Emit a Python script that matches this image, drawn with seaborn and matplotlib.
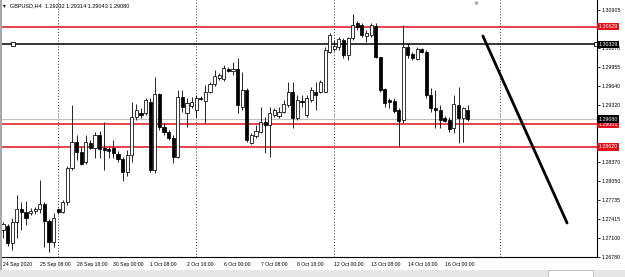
import numpy as np
import pandas as pd
import seaborn as sns
import matplotlib.pyplot as plt
from matplotlib.patches import Rectangle
from matplotlib.transforms import blended_transform_factory

# GBPUSD H4 candles, 24 Sep 2020 00:00 .. 16 Oct 2020 20:00
symbol = "GBPUSD,H4"
opens = [1.27231, 1.27298, 1.27014, 1.27365, 1.27582, 1.27532, 1.27515, 1.27548, 1.27582, 1.27665,
         1.27381, 1.27031, 1.27582, 1.27532, 1.27699, 1.28266, 1.28701, 1.28534, 1.28367, 1.28684,
         1.28600, 1.28818, 1.28600, 1.28584, 1.28600, 1.28500, 1.28417, 1.28200, 1.28484, 1.29118,
         1.29185, 1.29185, 1.29369, 1.28233, 1.29502, 1.28951, 1.28868, 1.28767, 1.28450, 1.29452,
         1.29185, 1.29302, 1.29235, 1.29435, 1.29385, 1.29536, 1.29669, 1.29769, 1.29753, 1.29920,
         1.29886, 1.29920, 1.29285, 1.29569, 1.28684, 1.28801, 1.28868, 1.29035, 1.28985, 1.29152,
         1.29135, 1.29202, 1.29319, 1.29536, 1.29101, 1.29385, 1.29152, 1.29402, 1.29536, 1.29536,
         1.29536, 1.30204, 1.30254, 1.30287, 1.30404, 1.30154, 1.30437, 1.30688, 1.30655, 1.30471,
         1.30488, 1.30638, 1.30120, 1.29586, 1.29402, 1.29385, 1.29235, 1.29068, 1.30287, 1.30170,
         1.30087, 1.30254, 1.30204, 1.29486, 1.29268, 1.29235, 1.29101, 1.29068, 1.28934, 1.29319,
         1.29101, 1.29232]
highs = [1.27365, 1.27331, 1.27431, 1.27816, 1.27699, 1.27715, 1.27598, 1.27615, 1.28066, 1.27699,
         1.27415, 1.27515, 1.27598, 1.27732, 1.28300, 1.29319, 1.28818, 1.28617, 1.28818, 1.28734,
         1.28868, 1.28884, 1.29035, 1.28617, 1.28734, 1.28550, 1.28450, 1.28567, 1.29369, 1.29335,
         1.29268, 1.29435, 1.29435, 1.29786, 1.29519, 1.29018, 1.28901, 1.28818, 1.29569, 1.29569,
         1.29435, 1.29452, 1.29486, 1.29469, 1.29653, 1.29703, 1.29903, 1.29853, 1.29987, 1.29953,
         1.30037, 1.30103, 1.29870, 1.29602, 1.28851, 1.28985, 1.29285, 1.29118, 1.29285, 1.29268,
         1.29285, 1.29402, 1.29703, 1.29703, 1.29486, 1.29486, 1.29486, 1.29619, 1.29703, 1.29736,
         1.30287, 1.30521, 1.30404, 1.30454, 1.30437, 1.30454, 1.30838, 1.30721, 1.30688, 1.30571,
         1.30688, 1.30688, 1.30120, 1.29602, 1.29435, 1.29435, 1.29268, 1.30655, 1.30354, 1.30204,
         1.30287, 1.30270, 1.30237, 1.29602, 1.29569, 1.29319, 1.29135, 1.29118, 1.29486, 1.29619,
         1.29285, 1.29314]
lows = [1.27097, 1.26964, 1.26897, 1.27097, 1.27231, 1.27315, 1.27482, 1.27498, 1.27515, 1.26947,
        1.26864, 1.26947, 1.27498, 1.27515, 1.27649, 1.28233, 1.28400, 1.28317, 1.28333, 1.28584,
        1.28433, 1.28433, 1.28233, 1.28433, 1.28433, 1.28367, 1.28049, 1.28133, 1.28367, 1.29068,
        1.29101, 1.29152, 1.28200, 1.28183, 1.28901, 1.28818, 1.28734, 1.28350, 1.28433, 1.29202,
        1.28951, 1.29268, 1.29101, 1.29402, 1.29018, 1.29519, 1.29636, 1.29736, 1.29719, 1.29870,
        1.29820, 1.29185, 1.29235, 1.28701, 1.28667, 1.28767, 1.28851, 1.28517, 1.28450, 1.29118,
        1.29101, 1.29185, 1.29285, 1.28934, 1.29068, 1.29285, 1.29118, 1.29369, 1.29235, 1.29519,
        1.29536, 1.30187, 1.30220, 1.30237, 1.30103, 1.30070, 1.30404, 1.30571, 1.30454, 1.30371,
        1.30454, 1.30103, 1.29536, 1.29285, 1.29268, 1.29185, 1.28634, 1.29018, 1.30103, 1.30070,
        1.30070, 1.30187, 1.29435, 1.29202, 1.28934, 1.28934, 1.29035, 1.28868, 1.28851, 1.28684,
        1.28701, 1.29043]
closes = [1.27331, 1.27014, 1.27365, 1.27582, 1.27532, 1.27431, 1.27548, 1.27582, 1.27665, 1.27381,
          1.27031, 1.27431, 1.27532, 1.27699, 1.28266, 1.28701, 1.28534, 1.28333, 1.28701, 1.28600,
          1.28818, 1.28584, 1.28567, 1.28550, 1.28517, 1.28417, 1.28200, 1.28484, 1.29118, 1.29235,
          1.29152, 1.29402, 1.28233, 1.29502, 1.28951, 1.28868, 1.28767, 1.28450, 1.29452, 1.29285,
          1.29352, 1.29369, 1.29435, 1.29419, 1.29536, 1.29669, 1.29803, 1.29820, 1.29936, 1.29886,
          1.29920, 1.29319, 1.29569, 1.28734, 1.28818, 1.28884, 1.29035, 1.28985, 1.29185, 1.29235,
          1.29202, 1.29335, 1.29536, 1.29101, 1.29402, 1.29369, 1.29435, 1.29569, 1.29486, 1.29703,
          1.30237, 1.30488, 1.30304, 1.30421, 1.30154, 1.30437, 1.30655, 1.30621, 1.30488, 1.30521,
          1.30655, 1.30120, 1.29569, 1.29352, 1.29369, 1.29218, 1.29051, 1.30287, 1.30154, 1.30103,
          1.30254, 1.30204, 1.29486, 1.29268, 1.29235, 1.29068, 1.29051, 1.28918, 1.29335, 1.29101,
          1.29268, 1.29080]

date_labels = ["24 Sep 2020", "25 Sep 08:00", "28 Sep 16:00", "30 Sep 00:00", "1 Oct 08:00",
               "2 Oct 16:00", "6 Oct 00:00", "7 Oct 08:00", "8 Oct 16:00", "12 Oct 00:00",
               "13 Oct 08:00", "14 Oct 16:00", "16 Oct 00:00"]
label_step = 8  # one time label every 8 bars

price_ticks = [1.30905, 1.30590, 1.30270, 1.29955, 1.29640, 1.29320, 1.29005,
               1.28685, 1.28370, 1.28050, 1.27735, 1.27415, 1.27100, 1.26780]
covered_ticks = [1.30590, 1.29005, 1.28685]   # hidden behind the level labels
red_levels = [1.30629, 1.29001, 1.28620]
black_level = 1.30329
bid_price = 1.29080
separators = [12, 42, 72, 108]          # period separators (bar index)
trend_bars = [104.3, 122.6]
trend_prices = [1.30471, 1.27348]

df = pd.DataFrame({"open": opens, "high": highs, "low": lows, "close": closes})
df["bar"] = np.arange(len(df))
df["up"] = df["close"] >= df["open"]

sns.set_style("white")
plt.rcParams["font.family"] = ["Liberation Sans", "DejaVu Sans"]

fig = plt.figure(figsize=(6.25, 2.77), dpi=100)
ax = fig.add_axes([1 / 625, 20 / 277, 596 / 625, 257 / 277])
ax.set_xlim(-0.43, 129.1)
ax.set_ylim(1.26780, 1.31072)

red = "#e3101a"

# separators
for s in separators:
    ax.axvline(s, color="#333333", lw=0.7, ls=(0, (1, 2)), zorder=1)

# levels
ax.axhline(bid_price, color="#c0c0c0", lw=0.8, zorder=1)
for lv in red_levels:
    ax.axhline(lv, color=red, lw=1.1, zorder=1.5)
ax.axhline(black_level, color="black", lw=1.1, zorder=1.5)
tr = blended_transform_factory(ax.transAxes, ax.transData)
ax.plot([0.02, 0.998], [black_level, black_level], ls="none", marker="s", ms=2.6,
        mfc="white", mec="black", mew=0.6, transform=tr, clip_on=False, zorder=6)

# candles
ax.vlines(df["bar"], df["low"], df["high"], color="black", lw=0.6, zorder=3)
body_lo = df[["open", "close"]].min(axis=1)
body_h = (df["close"] - df["open"]).abs().clip(lower=0.00004)
ax.bar(df["bar"], body_h, bottom=body_lo, width=0.68,
       color=np.where(df["up"], "white", "black"), edgecolor="black", linewidth=0.55, zorder=4)

# trend line
sns.lineplot(x=trend_bars, y=trend_prices, color="black", linewidth=2.0, ax=ax, zorder=5)

# axes styling
for side in ["left", "top"]:
    ax.spines[side].set_visible(False)
for side in ["right", "bottom"]:
    ax.spines[side].set_color("black")
    ax.spines[side].set_linewidth(0.8)

ax.yaxis.tick_right()
ax.set_yticks(price_ticks)
ax.set_yticklabels(["" if p in covered_ticks else f"{p:.5f}" for p in price_ticks])
ax.tick_params(axis="y", direction="out", length=1.8, width=0.6, pad=1.5,
               labelsize=3.8, colors="black")
ax.set_xticks(np.arange(len(date_labels)) * label_step)
ax.set_xticklabels(date_labels)
for lbl in ax.get_xticklabels():
    lbl.set_horizontalalignment("left")
ax.tick_params(axis="x", direction="out", length=2.2, width=0.6, pad=1.2,
               labelsize=3.7, colors="black")
ax.set_xlabel("")
ax.set_ylabel("")
ax.grid(False)

# price labels on the scale
for lv in red_levels:
    ax.text(1.003, lv, f"{lv:.5f}", transform=tr, fontsize=3.8, color="white", va="center", ha="left",
            bbox=dict(boxstyle="square,pad=0.25", fc=red, ec="none"), clip_on=False, zorder=10)
for lv in [black_level, bid_price]:
    ax.text(1.003, lv, f"{lv:.5f}", transform=tr, fontsize=3.8, color="white", va="center", ha="left",
            bbox=dict(boxstyle="square,pad=0.25", fc="black", ec="none"), clip_on=False, zorder=10)

# header
ax.text(0.004, 0.977, "\u25be", transform=ax.transAxes, fontsize=4, color="black", va="center",
        family=["DejaVu Sans"])
ax.text(0.015, 0.977, f"{symbol}  {opens[-1]:.5f} {highs[-1]:.5f} {lows[-1]:.5f} {closes[-1]:.5f}",
        transform=ax.transAxes, fontsize=4, color="black", va="center")
# chart shift marker
ax.plot([0.797], [0.99], marker="v", ms=1.8, color="#a8a8a8", transform=ax.transAxes, clip_on=False)

# window chrome
fig.patches.append(Rectangle((0, 0), 1.6 / 625, 1, transform=fig.transFigure, fc="#a8a8a8", ec="none"))
fig.patches.append(Rectangle((0, 0), 1, 7 / 277, transform=fig.transFigure, fc="#e6e6e6", ec="none"))
fig.patches.append(Rectangle((548 / 625, 0), 45 / 625, 7 / 277, transform=fig.transFigure,
                             fc="white", ec="#b0b0b0", lw=0.5))

fig.savefig("out.png", dpi=100)
